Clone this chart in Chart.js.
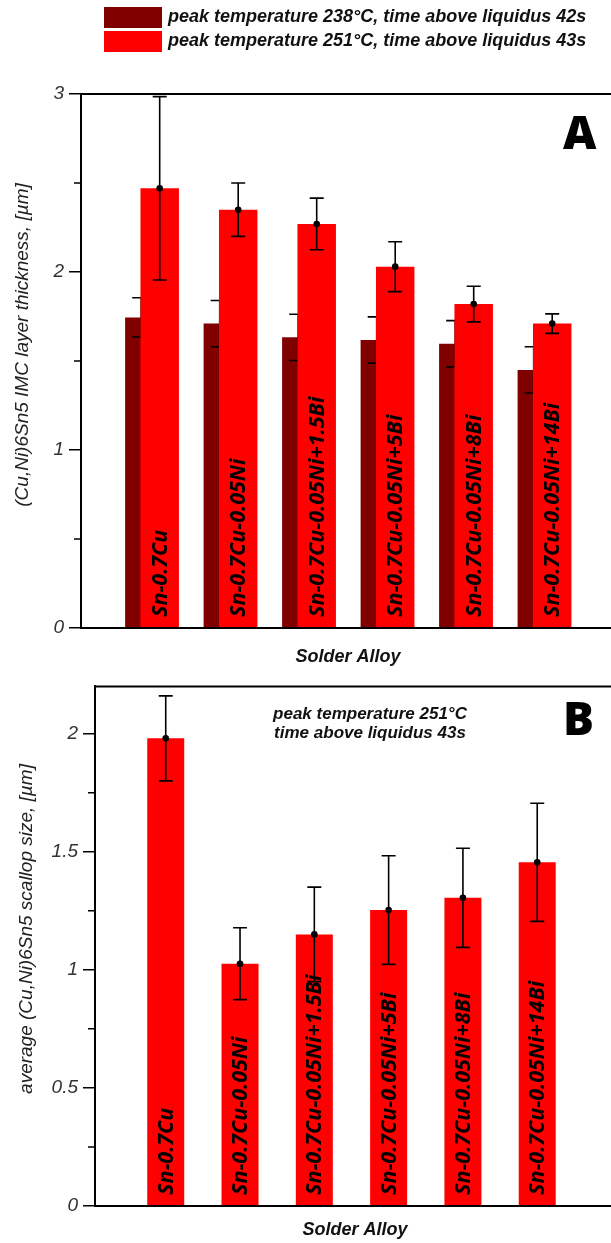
<!DOCTYPE html>
<html>
<head>
<meta charset="utf-8">
<script src="https://cdn.jsdelivr.net/npm/chart.js@4.4.1/dist/chart.umd.min.js"></script>
<style>
html, body { margin: 0; padding: 0; background: #fff; }
#wrap { position: relative; width: 611px; height: 1243px; overflow: hidden; }
canvas { position: absolute; left: 0; }
#chartA { top: 0; }
#chartB { top: 670px; }
.txt { position: absolute; font-family: "Liberation Sans", Arial, sans-serif; font-style: italic; font-weight: bold; color: #111; white-space: nowrap; }
.box { position: absolute; left: 104px; width: 58px; height: 21px; }
.big { position: absolute; font-family: "Open Sans", sans-serif; font-weight: 800; font-size: 46px; color: #000; line-height: 1; }
</style>
</head>
<body>
<div id="wrap">
  <canvas id="chartA" width="611" height="670"></canvas>
  <canvas id="chartB" width="611" height="573"></canvas>

  <div class="box" style="top:7px;background:#800000"></div>
  <div class="txt" style="left:168px;top:6px;font-size:18px">peak temperature 238°C, time above liquidus 42s</div>
  <div class="box" style="top:31px;background:#ff0000"></div>
  <div class="txt" style="left:168px;top:30px;font-size:18px">peak temperature 251°C, time above liquidus 43s</div>

  <div class="big" style="left:563px;top:108px">A</div>
  <div class="big" style="left:563px;top:694px">B</div>

  <div class="txt" style="left:260px;top:704px;width:220px;text-align:center;font-size:17px;line-height:19px">peak temperature 251°C<br>time above liquidus 43s</div>
</div>

<script>
const alloys = ['Sn-0.7Cu', 'Sn-0.7Cu-0.05Ni', 'Sn-0.7Cu-0.05Ni+1.5Bi', 'Sn-0.7Cu-0.05Ni+5Bi', 'Sn-0.7Cu-0.05Ni+8Bi', 'Sn-0.7Cu-0.05Ni+14Bi'];

// panel A: IMC layer thickness [um]
const imc238 = [1.745, 1.71, 1.633, 1.618, 1.597, 1.45];
const imc238Err = [0.11, 0.13, 0.13, 0.13, 0.13, 0.13];
const imc251 = [2.47, 2.35, 2.27, 2.03, 1.82, 1.71];
const imc251Err = [0.515, 0.15, 0.145, 0.14, 0.10, 0.055];

// panel B: scallop size [um]
const scallop = [1.98, 1.026, 1.15, 1.253, 1.305, 1.455];
const scallopErr = [0.18, 0.152, 0.20, 0.23, 0.21, 0.25];

const ticksA = [0, 1, 2, 3];
const minorA = [0.5, 1.5, 2.5];
const ticksB = [0, 0.5, 1, 1.5, 2];
const minorB = [0.25, 0.75, 1.25, 1.75];

const pts = vals => vals.map((v, i) => ({ x: i, y: v }));
const alloyTicks = s => { s.ticks = alloys.map((a, i) => ({ value: i })); };

// draws rotated alloy names inside bars, then error bars with a dot at the mean
const errorBars = {
  id: 'errorBars',
  afterDatasetDraw(chart, args) {
    const ds = chart.data.datasets[args.index];
    const y = chart.scales.y;
    const ctx = chart.ctx;
    const base = chart.chartArea.bottom;
    ctx.save();
    if (ds.names) {
      ctx.fillStyle = '#000';
      ctx.font = 'italic bold 21.5px "Open Sans", sans-serif';
      ctx.textAlign = 'left';
      ctx.textBaseline = 'middle';
      args.meta.data.forEach((bar, i) => {
        ctx.save();
        ctx.translate(bar.x + 1, base - 11);
        ctx.rotate(-Math.PI / 2);
        ctx.fillText(ds.names[i], 0, 0);
        ctx.restore();
      });
    }
    ctx.strokeStyle = '#000';
    ctx.fillStyle = '#000';
    ctx.lineWidth = 1.6;
    const c = ds.cap / 2;
    args.meta.data.forEach((bar, i) => {
      const v = ds.data[i].y, e = ds.err[i];
      const top = y.getPixelForValue(v + e), bot = y.getPixelForValue(v - e);
      const x = bar.x;
      ctx.beginPath();
      ctx.moveTo(x, top); ctx.lineTo(x, bot);
      ctx.moveTo(x - c, top); ctx.lineTo(x + c, top);
      ctx.moveTo(x - c, bot); ctx.lineTo(x + c, bot);
      ctx.stroke();
      if (ds.dot) {
        ctx.beginPath();
        ctx.arc(x, bar.y, 3.3, 0, Math.PI * 2);
        ctx.fill();
      }
    });
    ctx.restore();
  }
};

// top / bottom frame lines, minor ticks and axis titles
const frame = {
  id: 'frame',
  afterDraw(chart, args, opts) {
    const { ctx, chartArea: a } = chart;
    const y = chart.scales.y;
    ctx.save();
    ctx.strokeStyle = '#000';
    ctx.lineWidth = 2;
    ctx.beginPath();
    ctx.moveTo(a.left - 1, a.top); ctx.lineTo(a.right, a.top);
    ctx.moveTo(a.left - 1, a.bottom); ctx.lineTo(a.right, a.bottom);
    ctx.stroke();
    ctx.lineWidth = 1.5;
    ctx.beginPath();
    opts.minor.forEach(v => {
      const p = y.getPixelForValue(v);
      ctx.moveTo(a.left - 7, p); ctx.lineTo(a.left, p);
    });
    ctx.stroke();

    ctx.fillStyle = '#222';
    ctx.textAlign = 'center';
    ctx.textBaseline = 'middle';
    ctx.font = 'italic 19px "Liberation Sans", Arial, sans-serif';
    ctx.save();
    ctx.translate(opts.titleX, opts.titleY);
    ctx.rotate(-Math.PI / 2);
    ctx.fillText(opts.title, 0, 0);
    ctx.restore();

    ctx.fillStyle = '#111';
    ctx.font = 'italic bold 18px "Liberation Sans", Arial, sans-serif';
    ctx.fillText('Solder Alloy', (a.left + a.right) / 2 + 2, a.bottom + opts.xTitleGap);
    ctx.restore();
  }
};

const yAxis = (max, ticks, width) => ({
  min: 0,
  max: max,
  afterBuildTicks: s => { s.ticks = ticks.map(v => ({ value: v })); },
  afterFit: s => { s.width = width; },
  grid: { drawOnChartArea: false, drawTicks: true, tickLength: 12, color: '#000', lineWidth: 1.5 },
  border: { display: true, color: '#000', width: 2 },
  ticks: {
    padding: 5,
    color: '#333',
    font: { family: '"Liberation Sans", Arial, sans-serif', style: 'italic', size: 19 },
    callback: v => String(v)
  }
});

const xAxis = (min, max) => ({
  type: 'linear', display: false, offset: false, min: min, max: max, afterBuildTicks: alloyTicks
});

Chart.register(errorBars, frame);

new Chart(document.getElementById('chartA'), {
  type: 'bar',
  data: {
    datasets: [
      {
        label: 'peak temperature 251°C, time above liquidus 43s',
        data: pts(imc251),
        err: imc251Err,
        names: alloys,
        dot: true,
        cap: 14,
        xAxisID: 'x',
        order: 0,
        backgroundColor: '#ff0000',
        grouped: false,
        categoryPercentage: 1,
        barPercentage: 0.49
      },
      {
        label: 'peak temperature 238°C, time above liquidus 42s',
        data: pts(imc238),
        err: imc238Err,
        dot: false,
        cap: 18,
        xAxisID: 'xDark',
        order: 1,
        backgroundColor: '#800000',
        grouped: false,
        categoryPercentage: 1,
        barPercentage: 0.41
      }
    ]
  },
  options: {
    responsive: false,
    animation: false,
    layout: { padding: { top: 94, bottom: 42, left: 0, right: 0 } },
    plugins: {
      legend: { display: false },
      tooltip: { enabled: false },
      frame: { minor: minorA, title: '(Cu,Ni)6Sn5 IMC layer thickness, [µm]', titleX: 23, titleY: 345, xTitleGap: 29 }
    },
    scales: {
      x: xAxis(-1.0025, 5.749),
      xDark: xAxis(-0.767, 5.985),
      y: yAxis(3, ticksA, 81)
    }
  }
});

new Chart(document.getElementById('chartB'), {
  type: 'bar',
  data: {
    datasets: [
      {
        label: 'scallop size',
        data: pts(scallop),
        err: scallopErr,
        names: alloys,
        dot: true,
        cap: 14,
        backgroundColor: '#ff0000',
        grouped: false,
        categoryPercentage: 1,
        barPercentage: 0.498
      }
    ]
  },
  options: {
    responsive: false,
    animation: false,
    layout: { padding: { top: 16, bottom: 37, left: 0, right: 0 } },
    plugins: {
      legend: { display: false },
      tooltip: { enabled: false },
      frame: { minor: minorB, title: 'average (Cu,Ni)6Sn5 scallop size, [µm]', titleX: 27, titleY: 259, xTitleGap: 24 }
    },
    scales: {
      x: xAxis(-0.952, 5.993),
      y: yAxis(2.2, ticksB, 95)
    }
  }
});
</script>
</body>
</html>
